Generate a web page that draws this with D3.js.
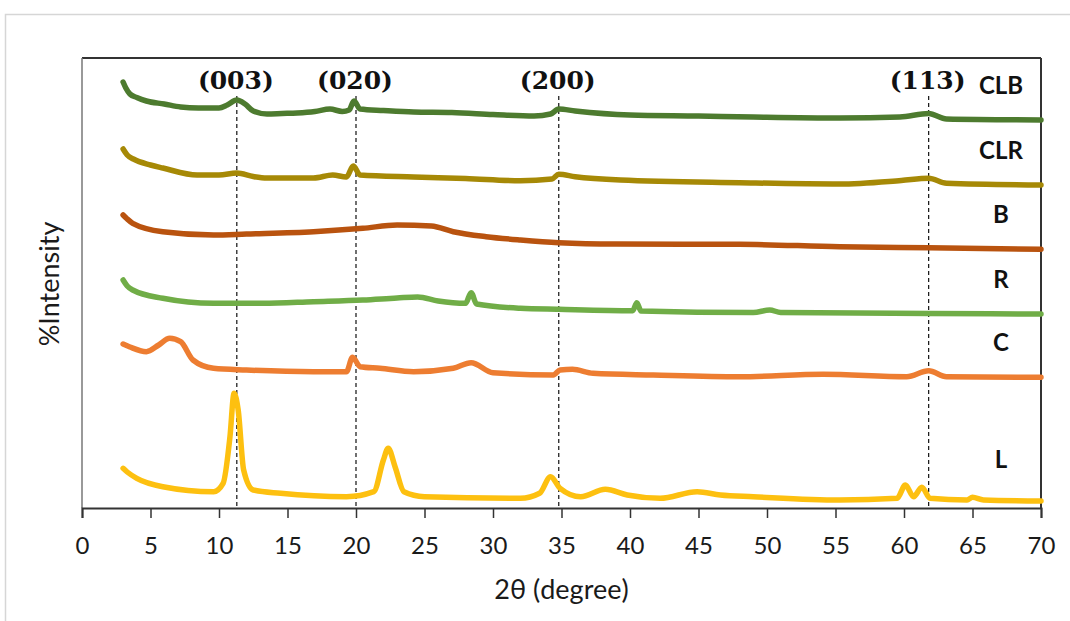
<!DOCTYPE html>
<html>
<head>
<meta charset="utf-8">
<script src="https://cdn.jsdelivr.net/npm/d3@7"></script>
<style>
  body { margin: 0; background: #fff; }
  svg { display: block; }
</style>
</head>
<body>
<div id="chart"></div>
<script>
/* Data: [2theta, intensity offset] */
var clbData = [[3.0,426],[3.2,420],[3.5,414],[4.0,410.5],[4.7,407],[6.0,404],[7.2,401],[8.5,400],[10.0,400],[10.6,403],[11.3,408],[11.9,404],[12.5,397],[13.5,394],[14.6,394.5],[15.7,395],[17.0,396.5],[18.1,399],[19.0,396.5],[19.5,398],[19.85,407],[20.3,399],[22,397.5],[24.2,396],[27,395.5],[30,393.5],[33,392],[34.2,394],[34.8,399],[36,397],[40,393],[45,392],[49,391],[55.3,390],[59.7,391],[61.8,394.5],[63.1,389],[70,388]];
var clrData = [[3.0,359],[3.3,353],[3.75,349],[5.0,343],[5.9,340],[8.4,333],[10.0,333],[11.3,335],[12.5,331.5],[13.5,330],[16.9,330],[18.3,333],[19.3,331],[19.8,342],[20.3,333],[24.2,331],[28,329.5],[32,327.3],[34.3,329],[34.8,333.7],[36,331.3],[39.3,328],[48,325.3],[55.3,324],[59.8,327.5],[61.8,329.7],[63.1,324.7],[70,323]];
var bData = [[3.0,293],[3.3,289],[3.7,284.7],[5.9,276.3],[9.6,273],[12,274],[16.9,276.3],[20.5,279.7],[23,283],[25.5,282],[27.1,276.3],[29.5,271.3],[32,268],[34.8,265.3],[39,264],[48,263.7],[55.3,261.3],[61.8,260.3],[70,258.7]];
var rData = [[3.0,228],[3.3,222],[3.7,218],[5.9,209.7],[9.6,204.7],[13.2,204.7],[16.9,206.3],[20.5,208],[23,210],[24.5,211],[26,207],[28.0,204.7],[28.4,215.3],[28.8,204],[32,199.7],[34.8,198.7],[40.2,197.3],[40.5,205.3],[40.8,197],[49,195.5],[50.2,198],[51,195.5],[61.8,194.5],[70,194]];
var cData = [[3.0,164],[3.5,161],[4.7,156.3],[5.6,163],[6.4,169.7],[7.2,166.3],[8.1,148],[9.6,139.7],[12,138],[16.9,136.3],[19.3,136.3],[19.75,150.7],[20.3,141.3],[21.75,139.7],[24.2,136.3],[27.1,139.7],[28.4,145.3],[30,135.3],[34.4,133],[34.9,138],[35.8,138.7],[37.3,134.7],[41.7,133],[48,131.3],[54.1,133.7],[60.2,131.3],[61.8,137.3],[63.1,131.3],[70,130.7]];
var lData = [[3.0,39.7],[3.3,36],[4.0,29.7],[5.9,21.3],[9.6,16.3],[10.3,24.7],[10.8,71.3],[11.1,114.7],[11.4,98],[11.8,38],[12.5,18],[14.5,14.7],[19.3,11.3],[21.3,16.3],[22.0,48],[22.35,59.7],[22.85,41.3],[23.5,16.3],[25,11.3],[32,9.7],[33.4,14.7],[34.2,31.3],[34.9,19.7],[36.4,11.3],[38.2,18.7],[39.8,13],[42.2,9.7],[44.9,16.3],[46.6,13],[49,11.3],[55.3,8],[59.5,9.7],[60.1,23],[60.7,11.3],[61.3,20.7],[61.9,9.7],[64.6,8],[65.0,10.7],[65.8,8],[70,7]];

var seriesNames  = ["CLB", "CLR", "B", "R", "C", "L"];
var seriesData   = [clbData, clrData, bData, rData, cData, lData];
var seriesColors = ["#4d7b2f", "#a68906", "#b9530f", "#70ad47", "#ed7d31", "#fdc010"];
var seriesLabelY = [420, 355, 291, 226, 163, 46]; // label positions in intensity units

var planeLabels = ["(003)", "(020)", "(200)", "(113)"];
var planeAngles = [11.3, 20.0, 34.8, 61.8];

var xTicks = d3.range(0, 71, 5);

/* SVG */
var width = 1070, height = 621;
var plot = {left: 82, right: 1041, top: 58, bottom: 508};
var sansFont = "Lato, 'Open Sans', sans-serif";

var svg = d3.select("#chart")
    .append("svg")
        .attr("width", width)
        .attr("height", height);

// outer light frame
svg.append("rect")
    .attr("x", 5.5).attr("y", 14.5)
    .attr("width", 1100).attr("height", 700)
    .attr("fill", "none")
    .attr("stroke", "#d6d6d6")
    .attr("stroke-width", 1.5);

/* Scales */
var x = d3.scaleLinear().domain([0, 70]).range([plot.left, plot.right]);
var y = d3.scaleLinear().domain([0, 450]).range([plot.bottom, plot.top]);

/* Plot box */
svg.append("line")
    .attr("x1", plot.left).attr("x2", plot.right).attr("y1", plot.top).attr("y2", plot.top)
    .attr("stroke", "#333").attr("stroke-width", 2);
svg.append("line")
    .attr("x1", plot.right).attr("x2", plot.right).attr("y1", plot.top).attr("y2", plot.bottom)
    .attr("stroke", "#333").attr("stroke-width", 2);
svg.append("line")
    .attr("x1", plot.left).attr("x2", plot.left).attr("y1", plot.top).attr("y2", plot.bottom)
    .attr("stroke", "#777").attr("stroke-width", 1.5);

/* Dashed plane lines */
svg.selectAll(".plane")
    .data(planeAngles)
    .enter()
    .append("line")
        .attr("class", "plane")
        .attr("x1", function(d){ return x(d); })
        .attr("x2", function(d){ return x(d); })
        .attr("y1", 96)
        .attr("y2", plot.bottom)
        .attr("stroke", "#111")
        .attr("stroke-width", 1.2)
        .attr("stroke-dasharray", "4,3");

/* Curves */
var line = d3.line()
    .x(function(d){ return x(d[0]); })
    .y(function(d){ return y(d[1]); })
    .curve(d3.curveMonotoneX);

svg.selectAll(".curve")
    .data(seriesData)
    .enter()
    .append("path")
        .attr("class", "curve")
        .attr("d", line)
        .attr("fill", "none")
        .attr("stroke", function(d, i){ return seriesColors[i]; })
        .attr("stroke-width", 5.5)
        .attr("stroke-linejoin", "round")
        .attr("stroke-linecap", "round");

/* X axis */
var xAxis = d3.axisBottom(x)
    .tickValues(xTicks)
    .tickSize(10)
    .tickPadding(19)
    .tickFormat(d3.format("d"));

var gx = svg.append("g")
    .attr("transform", "translate(0," + plot.bottom + ")")
    .call(xAxis);
gx.select(".domain").attr("stroke", "#333").attr("stroke-width", 2);
gx.selectAll(".tick line").attr("stroke", "#333").attr("stroke-width", 1.5);
gx.selectAll(".tick text")
    .attr("fill", "#1a1a1a")
    .style("font-family", sansFont)
    .style("font-size", "24px");

/* Axis titles */
svg.append("text")
    .attr("x", (plot.left + plot.right) / 2)
    .attr("y", 599)
    .attr("text-anchor", "middle")
    .attr("fill", "#1a1a1a")
    .style("font-family", sansFont)
    .style("font-size", "27px")
    .text("2θ (degree)");

svg.append("text")
    .attr("transform", "translate(59,284) rotate(-90)")
    .attr("text-anchor", "middle")
    .attr("fill", "#1a1a1a")
    .style("font-family", sansFont)
    .style("font-size", "27px")
    .text("%Intensity");

/* Plane labels */
svg.selectAll(".plane-label")
    .data(planeLabels)
    .enter()
    .append("text")
        .attr("class", "plane-label")
        .attr("x", function(d, i){ return x(planeAngles[i]) - 1; })
        .attr("y", 89)
        .attr("text-anchor", "middle")
        .attr("fill", "#111")
        .style("font-family", "'DejaVu Serif', serif")
        .style("font-weight", "bold")
        .style("font-size", "25px")
        .text(function(d){ return d; });

/* Series labels */
svg.selectAll(".series-label")
    .data(seriesNames)
    .enter()
    .append("text")
        .attr("class", "series-label")
        .attr("x", 1001)
        .attr("y", function(d, i){ return y(seriesLabelY[i]); })
        .attr("text-anchor", "middle")
        .attr("dominant-baseline", "middle")
        .attr("fill", "#111")
        .style("font-family", sansFont)
        .style("font-weight", "bold")
        .style("font-size", "24px")
        .text(function(d){ return d; });
</script>
</body>
</html>
